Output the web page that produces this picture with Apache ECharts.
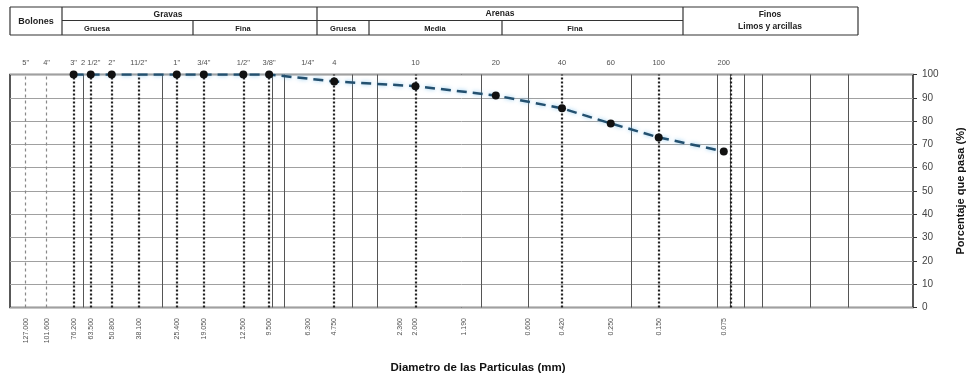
<!DOCTYPE html>
<html><head><meta charset="utf-8">
<script src="https://cdn.jsdelivr.net/npm/echarts@6/dist/echarts.min.js"></script>
<style>html,body{margin:0;padding:0;background:#fff}#c{width:970px;height:376px}</style>
</head><body><div id="c"></div>
<script>
// ---- data ----
const topNames = ['5"', '4"', '3"', '2 1/2"', '2"', '11/2"', '1"', '3/4"', '1/2"', '3/8"', '1/4"', '4', '10', '20', '40', '60', '100', '200'];
const topDiam  = [127, 101.6, 76.2, 63.5, 50.8, 38.1, 25.4, 19.05, 12.5, 9.5, 6.3, 4.75, 2.0, 0.85, 0.42, 0.25, 0.15, 0.075];
const bottomLabels = ['127.000', '101.600', '76.200', '63.500', '50.800', '38.100', '25.400', '19.050', '12.500', '9.500', '6.300', '4.750', '2.360', '2.000', '1.190', '0.600', '0.420', '0.250', '0.150', '0.075'];
const passDiam = [76.2, 63.5, 50.8, 25.4, 19.05, 12.5, 9.5, 4.75, 2.0, 0.85, 0.42, 0.25, 0.15, 0.075];
const passPct  = [100, 100, 100, 100, 100, 100, 100, 97, 95, 91, 85.5, 79, 73, 67];
const sieveLineDiam = [76.2, 63.5, 50.8, 38.1, 25.4, 19.05, 12.5, 9.5, 4.75, 2.0, 0.42, 0.15, 0.075];
const lightSieveDiam = [127, 101.6];
const gridLineDiam = [69, 29.5, 9.2, 8.05, 3.94, 2.99, 0.99, 0.6, 0.2, 0.08, 0.0705, 0.06, 0.0496, 0.03, 0.02];
const yTicks = [0, 10, 20, 30, 40, 50, 60, 70, 80, 90, 100];

// ---- chart ----
const FONT = '"Liberation Sans", Arial, sans-serif';
const chart = echarts.init(document.getElementById('c'), null, {renderer: 'canvas'});

function vLines(list, style) {
  return list.map(d => ({xAxis: d, lineStyle: style}));
}

// header table
const T = {x0: 10, x1: 858, y0: 7, ym: 20.5, y1: 35};
const hdrLines = [
  [T.x0, T.y0, T.x1, T.y0], [T.x0, T.y1, T.x1, T.y1], [T.x0, T.y0, T.x0, T.y1], [T.x1, T.y0, T.x1, T.y1],
  [62, T.y0, 62, T.y1], [317, T.y0, 317, T.y1], [683, T.y0, 683, T.y1],
  [62, T.ym, 683, T.ym],
  [193, T.ym, 193, T.y1], [369, T.ym, 369, T.y1], [502, T.ym, 502, T.y1]
];
const hdrTexts = [
  ['Bolones', 36, 22, 9], ['Gravas', 168, 14.5, 8.5], ['Arenas', 500, 14, 8.5],
  ['Gruesa', 97, 28.5, 7.5], ['Fina', 243, 28.5, 7.5], ['Gruesa', 343, 28.5, 7.5],
  ['Media', 435, 28.5, 7.5], ['Fina', 575, 28.5, 7.5],
  ['Finos', 770, 14.5, 8.5], ['Limos y arcillas', 770, 27, 8.5]
];
const graphic = [];
hdrLines.forEach(l => graphic.push({type: 'line', shape: {x1: l[0], y1: l[1], x2: l[2], y2: l[3]}, style: {stroke: '#333', lineWidth: 1.2}, silent: true}));
hdrTexts.forEach(t => graphic.push({type: 'text', x: t[1], y: t[2], style: {text: t[0], fill: '#222', font: 'bold ' + t[3] + 'px ' + FONT, textAlign: 'center', textVerticalAlign: 'middle'}, silent: true}));
graphic.push({type: 'text', x: 478, y: 368, style: {text: 'Diametro de las Particulas (mm)', fill: '#111', font: 'bold 11.5px ' + FONT, textAlign: 'center', textVerticalAlign: 'middle'}, silent: true});

const option = {
  animation: false,
  backgroundColor: '#fff',
  graphic: graphic,
  grid: {left: 10, right: 57, top: 74.5, height: 233, outerBoundsMode: 'none', containLabel: false, show: true, borderColor: '#222', borderWidth: 1.5, backgroundColor: 'transparent'},
  xAxis: {
    type: 'log', logBase: 10, inverse: true, min: 0.01, max: 150,
    axisLine: {show: false}, axisTick: {show: false}, axisLabel: {show: false},
    splitLine: {show: false}, minorSplitLine: {show: false}, minorTick: {show: false}
  },
  yAxis: {
    type: 'value', position: 'right', min: 0, max: 100, interval: 10,
    axisLine: {show: false},
    axisTick: {show: true, length: 4, lineStyle: {color: '#333'}},
    axisLabel: {margin: 9, fontSize: 10, color: '#444', fontFamily: FONT},
    splitLine: {show: true, lineStyle: {color: '#a0a0a0', width: 1}},
    name: 'Porcentaje que pasa (%)', nameLocation: 'middle', nameRotate: 90, nameGap: 42,
    nameTextStyle: {fontSize: 11, fontWeight: 'bold', color: '#111', fontFamily: FONT}
  },
  series: [
    {
      type: 'line', data: [], silent: true, z: 1,
      markLine: {
        silent: true, symbol: 'none', label: {show: false}, animation: false,
        data: [].concat(
          vLines(gridLineDiam, {color: '#555', width: 1, type: 'solid'}),
          vLines(lightSieveDiam, {color: '#888', width: 1.2, type: [3, 3]}),
          vLines(sieveLineDiam, {color: '#222', width: 2.2, type: [2, 2]})
        )
      }
    },
    {
      type: 'scatter', z: 2, silent: true, symbolSize: 1, itemStyle: {color: 'rgba(0,0,0,0)'},
      data: topNames.map((n, i) => ({name: n, value: [topDiam[i], 100]})),
      label: {show: true, position: 'top', distance: 7, formatter: p => p.name, fontSize: 7.5, color: '#222', fontFamily: FONT}
    },
    {
      type: 'scatter', z: 2, silent: true, symbolSize: 1, itemStyle: {color: 'rgba(0,0,0,0)'},
      data: bottomLabels.map(s => ({name: s, value: [parseFloat(s), 0]})),
      label: {show: true, position: 'bottom', distance: 10, rotate: 90, align: 'right', verticalAlign: 'middle', formatter: p => p.name, fontSize: 7, color: '#222', fontFamily: FONT}
    },
    {
      type: 'line', z: 5, silent: true,
      data: passDiam.map((d, i) => [d, passPct[i]]),
      symbol: 'circle', symbolSize: 8,
      itemStyle: {color: '#111'},
      lineStyle: {color: '#23506f', width: 2.5, type: [10, 6], shadowColor: 'rgba(120,190,235,0.8)', shadowBlur: 4}
    }
  ]
};
chart.setOption(option);
</script>
</body></html>
